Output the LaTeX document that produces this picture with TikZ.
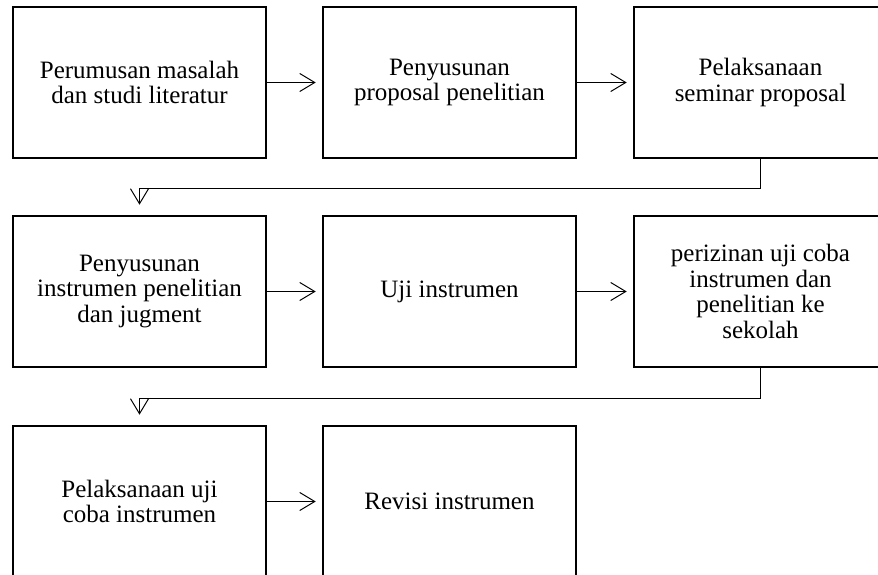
\documentclass[tikz,border=0pt]{standalone}
\usepackage{fontspec}
\setmainfont{Liberation Serif}
\usetikzlibrary{arrows.meta}
\begin{document}
\begin{tikzpicture}[x=1pt,y=-1pt,
  stepbox/.style={draw, line width=2.6pt, minimum width=253pt, minimum height=151pt,
    align=center, font=\fontsize{25}{25.5}\selectfont, inner sep=0pt},
  conn/.style={line width=1pt, -{Straight Barb[length=15pt,width=18pt,line width=1pt]}}]
\useasboundingbox (0,0) rectangle (878,575);
\clip (0,0) rectangle (878,575);
\node[stepbox] (b1) at (139.5,82.5) {Perumusan masalah\\dan studi literatur};
\node[stepbox] (b2) at (449.5,82.5) {Penyusunan\\proposal penelitian};
\node[stepbox] (b3) at (760.5,82.5) {Pelaksanaan\\seminar proposal};
\node[stepbox] (b4) at (139.5,291.5) {Penyusunan\\instrumen penelitian\\dan jugment};
\node[stepbox] (b5) at (449.5,291.5) {Uji instrumen};
\node[stepbox] (b6) at (760.5,291.5) {perizinan uji coba\\instrumen dan\\penelitian ke\\sekolah};
\node[stepbox] (b7) at (139.5,501.5) {Pelaksanaan uji\\coba instrumen};
\node[stepbox] (b8) at (449.5,501.5) {Revisi instrumen};
\draw[conn, shorten >=6pt] (b1.east) -- (b2.west);
\draw[conn, shorten >=6pt] (b2.east) -- (b3.west);
\draw[conn, shorten >=6pt] (b4.east) -- (b5.west);
\draw[conn, shorten >=6pt] (b5.east) -- (b6.west);
\draw[conn, shorten >=6pt] (b7.east) -- (b8.west);
\draw[conn, shorten >=10pt] (b3.south) -- ++(0,29.5) -| (b4.north);
\draw[conn, shorten >=10pt] (b6.south) -- ++(0,30) -| (b7.north);
\end{tikzpicture}
\end{document}
